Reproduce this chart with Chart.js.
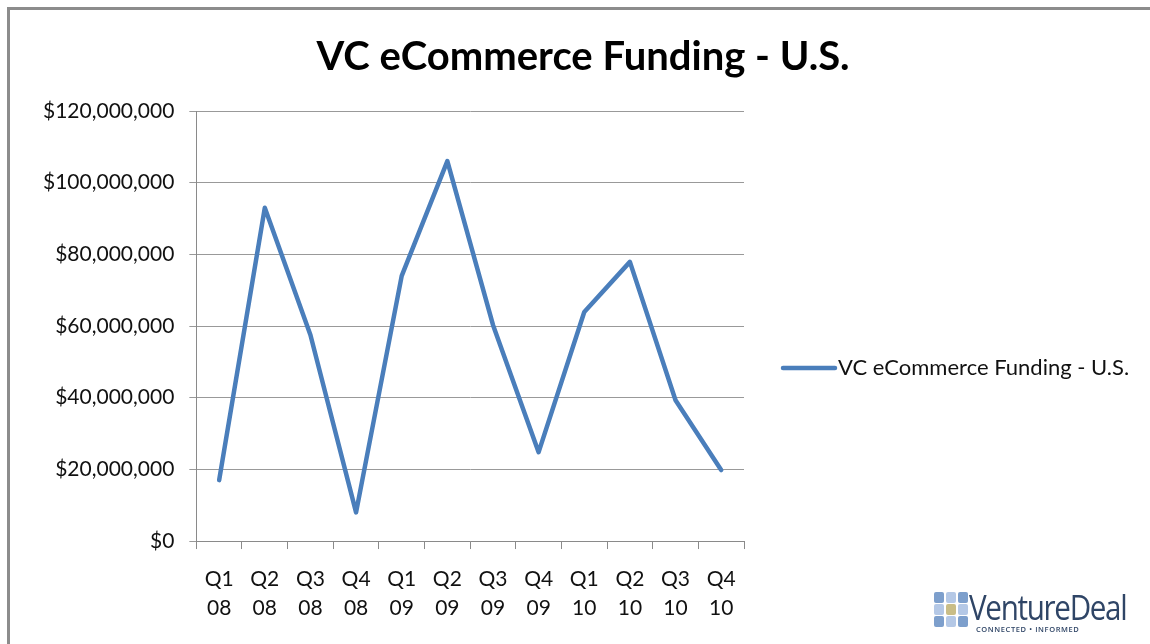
<!DOCTYPE html>
<html>
<head>
<meta charset="utf-8">
<script src="https://cdn.jsdelivr.net/npm/chart.js@4.4.1/dist/chart.umd.min.js"></script>
<style>
  html, body { margin: 0; padding: 0; background: #fff; }
  body { width: 1150px; height: 644px; position: relative; overflow: hidden; font-family: Lato, "Open Sans", sans-serif; }
  #wrap { position: absolute; left: 0; top: 0; width: 1150px; height: 644px; }
  #frame { position: absolute; left: 7px; top: 7px; width: 1200px; height: 700px;
           border-top: 3px solid #8c8c8c; border-left: 3px solid #8c8c8c; box-sizing: border-box; pointer-events: none; }
  #logo { position: absolute; left: 934px; top: 590px; width: 200px; height: 44px; }
  #logo .grid { position: absolute; left: 0; top: 2px; width: 34px; height: 36px; }
  #logo .sq { position: absolute; width: 10px; height: 11px; border-radius: 2px; }
  #logo .name { position: absolute; left: 35px; top: -6px; font-family: "Open Sans", sans-serif; font-weight: 400;
                font-size: 34px; color: #2f4566; letter-spacing: -1.5px; transform-origin: 0 0; transform: scaleX(0.87); white-space: nowrap; }
  #logo .tag { position: absolute; left: 42px; top: 34px; font-family: "Open Sans", sans-serif; font-size: 7.5px; font-weight: 600;
               color: #2f4566; letter-spacing: 0.6px; white-space: nowrap; }
</style>
</head>
<body>
<div id="wrap"><canvas id="c" width="1150" height="644"></canvas></div>
<div id="frame"></div>
<div id="logo">
  <div class="grid">
    <div class="sq" style="left:0;top:0;background:#7d9fcc"></div>
    <div class="sq" style="left:12px;top:0;background:#b4c8e6"></div>
    <div class="sq" style="left:24px;top:0;background:#7d9fcc"></div>
    <div class="sq" style="left:0;top:12px;background:#b4c8e6"></div>
    <div class="sq" style="left:12px;top:12px;background:#c9bd86"></div>
    <div class="sq" style="left:24px;top:12px;background:#b4c8e6"></div>
    <div class="sq" style="left:0;top:24px;background:#7d9fcc"></div>
    <div class="sq" style="left:12px;top:24px;background:#b4c8e6"></div>
    <div class="sq" style="left:24px;top:24px;background:#7d9fcc"></div>
  </div>
  <div class="name">VentureDeal</div>
  <div class="tag">CONNECTED • INFORMED</div>
</div>
<script>
const chartTitle = "VC eCommerce Funding - U.S.";
const seriesName = "VC eCommerce Funding - U.S.";
const quarters = [["Q1","08"],["Q2","08"],["Q3","08"],["Q4","08"],["Q1","09"],["Q2","09"],["Q3","09"],["Q4","09"],["Q1","10"],["Q2","10"],["Q3","10"],["Q4","10"]];
const funding = [17000000, 93000000, 57500000, 8000000, 74000000, 106000000, 60300000, 24800000, 63900000, 77900000, 39300000, 19800000];
const yMin = 0, yMax = 120000000, yStep = 20000000;

const fontFamily = "Lato, 'Open Sans', sans-serif";

// Title spans the whole chart width (as in the spreadsheet chart), not just the area left of the legend.
const wideTitle = {
  id: 'wideTitle',
  afterLayout(chart) {
    const t = chart.titleBlock;
    if (!t) return;
    t.left = 20;
    t.right = 1146;
    t.width = t.right - t.left;
  }
};

// Legend to the right of the plot, vertically centred on the chart body.
const sideLegend = {
  id: 'sideLegend',
  afterDraw(chart) {
    const ctx = chart.ctx;
    const ds = chart.data.datasets[0];
    const x0 = chart.chartArea.right + 39;
    const lineLen = 52;
    const y = 368;
    ctx.save();
    ctx.strokeStyle = ds.borderColor;
    ctx.lineWidth = ds.borderWidth;
    ctx.lineCap = 'round';
    ctx.beginPath();
    ctx.moveTo(x0, y);
    ctx.lineTo(x0 + lineLen, y);
    ctx.stroke();
    ctx.fillStyle = '#111';
    ctx.font = "22px " + fontFamily;
    ctx.textBaseline = 'middle';
    ctx.textAlign = 'left';
    ctx.fillText(ds.label, x0 + lineLen + 3, y);
    ctx.restore();
  }
};

new Chart(document.getElementById('c'), {
  type: 'line',
  data: {
    labels: quarters,
    datasets: [{
      label: seriesName,
      data: funding,
      borderColor: '#4a7ebb',
      backgroundColor: '#4a7ebb',
      borderWidth: 4.5,
      pointRadius: 0,
      pointHoverRadius: 0,
      tension: 0,
      borderJoinStyle: 'round',
      borderCapStyle: 'round',
      fill: false
    }]
  },
  plugins: [wideTitle, sideLegend],
  options: {
    responsive: false,
    animation: false,
    events: [],
    layout: { padding: { left: 28, right: 406, top: 10, bottom: 5 } },
    plugins: {
      title: {
        display: true,
        text: chartTitle,
        color: '#000',
        font: { family: fontFamily, size: 40, weight: 'bold', lineHeight: 1.2 },
        padding: { top: 23, bottom: 30 }
      },
      legend: { display: false },
      tooltip: { enabled: false }
    },
    scales: {
      x: {
        offset: true,
        grid: { offset: true, drawOnChartArea: false, drawTicks: true, tickLength: 8, color: '#8a8a8a', lineWidth: 1 },
        border: { display: true, color: '#8a8a8a', width: 1 },
        ticks: { color: '#111', padding: 16, maxRotation: 0, autoSkip: false,
                 font: { family: fontFamily, size: 21, lineHeight: 1.38 } }
      },
      y: {
        min: yMin,
        max: yMax,
        grid: { color: '#999999', lineWidth: 1, tickLength: 7, drawTicks: true },
        border: { display: true, color: '#8a8a8a', width: 1 },
        ticks: {
          stepSize: yStep,
          color: '#111',
          padding: 15,
          font: { family: fontFamily, size: 21 },
          callback: v => '$' + Number(v).toLocaleString('en-US')
        }
      }
    }
  }
});
</script>
</body>
</html>
